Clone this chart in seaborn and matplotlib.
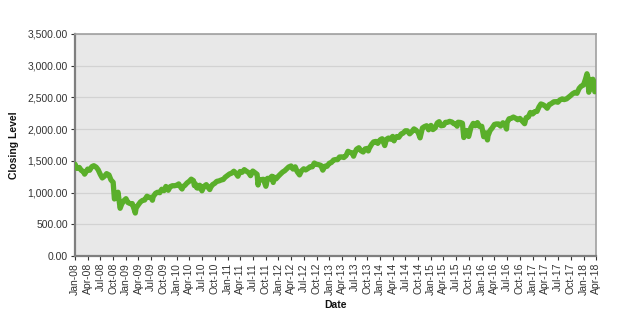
import matplotlib
matplotlib.use("Agg")
import matplotlib.pyplot as plt
import matplotlib.dates as mdates
import matplotlib.ticker as mticker
import seaborn as sns
import pandas as pd

# Approximate semi-monthly closing levels
dates = [
 "2008-01-01","2008-01-15","2008-02-01","2008-02-15","2008-03-01","2008-03-10","2008-04-01","2008-04-15","2008-05-01","2008-05-15","2008-06-01","2008-06-15","2008-07-01","2008-07-15","2008-08-01","2008-08-15","2008-09-01","2008-09-15","2008-10-01","2008-10-10","2008-10-15","2008-10-28","2008-11-05","2008-11-20","2008-12-01","2008-12-15",
 "2009-01-01","2009-01-15","2009-02-01","2009-02-15","2009-03-01","2009-03-09","2009-03-15","2009-04-01","2009-04-15","2009-05-01","2009-05-15","2009-06-01","2009-06-15","2009-07-01","2009-07-10","2009-07-15","2009-08-01","2009-08-15","2009-09-01","2009-09-15","2009-10-01","2009-10-15","2009-11-01","2009-11-15","2009-12-01","2009-12-15",
 "2010-01-01","2010-01-15","2010-02-01","2010-02-08","2010-02-15","2010-03-01","2010-03-15","2010-04-01","2010-04-15","2010-05-01","2010-05-07","2010-05-15","2010-05-25","2010-06-01","2010-06-15","2010-07-01","2010-07-15","2010-08-01","2010-08-15","2010-08-26","2010-09-01","2010-09-15","2010-10-01","2010-10-15","2010-11-01","2010-11-15","2010-12-01","2010-12-15",
 "2011-01-01","2011-01-15","2011-02-01","2011-02-15","2011-03-01","2011-03-16","2011-04-01","2011-04-15","2011-05-01","2011-05-15","2011-06-01","2011-06-15","2011-07-01","2011-07-15","2011-08-01","2011-08-08","2011-08-15","2011-09-01","2011-09-15","2011-10-03","2011-10-15","2011-11-01","2011-11-15","2011-11-25","2011-12-01","2011-12-15",
 "2012-01-01","2012-01-15","2012-02-01","2012-02-15","2012-03-01","2012-03-15","2012-04-01","2012-04-15","2012-05-01","2012-05-15","2012-06-01","2012-06-15","2012-07-01","2012-07-15","2012-08-01","2012-08-15","2012-09-01","2012-09-15","2012-10-01","2012-10-15","2012-11-01","2012-11-15","2012-12-01","2012-12-15",
 "2013-01-01","2013-01-15","2013-02-01","2013-02-15","2013-03-01","2013-03-15","2013-04-01","2013-04-15","2013-05-01","2013-05-15","2013-06-01","2013-06-15","2013-06-24","2013-07-01","2013-07-15","2013-08-01","2013-08-15","2013-09-01","2013-09-15","2013-10-01","2013-10-08","2013-10-15","2013-11-01","2013-11-15","2013-12-01","2013-12-15",
 "2014-01-01","2014-01-15","2014-02-03","2014-02-15","2014-03-01","2014-03-15","2014-04-01","2014-04-11","2014-04-15","2014-05-01","2014-05-15","2014-06-01","2014-06-15","2014-07-01","2014-07-15","2014-08-01","2014-08-15","2014-09-01","2014-09-15","2014-10-01","2014-10-15","2014-11-01","2014-11-15","2014-12-01","2014-12-15",
 "2015-01-01","2015-01-15","2015-02-01","2015-02-15","2015-03-01","2015-03-15","2015-04-01","2015-04-15","2015-05-01","2015-05-15","2015-06-01","2015-06-15","2015-07-01","2015-07-08","2015-07-15","2015-08-01","2015-08-15","2015-08-25","2015-09-01","2015-09-15","2015-09-29","2015-10-15","2015-11-01","2015-11-15","2015-12-01","2015-12-15",
 "2016-01-01","2016-01-15","2016-02-01","2016-02-11","2016-02-15","2016-03-01","2016-03-15","2016-04-01","2016-04-15","2016-05-01","2016-05-15","2016-06-01","2016-06-15","2016-06-27","2016-07-01","2016-07-15","2016-08-01","2016-08-15","2016-09-01","2016-09-15","2016-10-01","2016-10-15","2016-11-04","2016-11-15","2016-12-01","2016-12-15",
 "2017-01-01","2017-01-15","2017-02-01","2017-02-15","2017-03-01","2017-03-15","2017-04-01","2017-04-15","2017-05-01","2017-05-15","2017-06-01","2017-06-15","2017-07-01","2017-07-15","2017-08-01","2017-08-15","2017-09-01","2017-09-15","2017-10-01","2017-10-15","2017-11-01","2017-11-15","2017-12-01","2017-12-15",
 "2018-01-01","2018-01-15","2018-01-26","2018-02-01","2018-02-08","2018-02-15","2018-02-26","2018-03-01","2018-03-09","2018-03-15","2018-03-23","2018-03-27","2018-04-01",
]
closing = [
 1447,1380,1395,1349,1331,1290,1370,1351,1409,1423,1400,1360,1284,1230,1260,1298,1277,1200,1161,899,907,941,1005,752,816,868,
 903,843,825,826,735,677,756,811,852,877,882,942,923,923,879,932,987,1004,998,1052,1029,1096,1036,1093,1108,1107,
 1115,1136,1074,1056,1094,1115,1150,1178,1211,1187,1110,1136,1074,1070,1115,1027,1096,1125,1079,1047,1080,1125,1146,1176,1184,1197,1206,1242,
 1271,1293,1307,1336,1306,1257,1332,1319,1361,1338,1314,1266,1339,1316,1287,1119,1204,1204,1209,1099,1224,1219,1257,1159,1244,1215,
 1258,1289,1324,1343,1374,1403,1419,1370,1405,1330,1278,1342,1374,1356,1380,1405,1406,1465,1444,1440,1428,1353,1416,1413,
 1462,1472,1513,1520,1518,1560,1562,1552,1582,1650,1630,1626,1573,1614,1682,1706,1661,1639,1688,1695,1656,1698,1761,1798,1806,1775,
 1831,1848,1741,1838,1859,1841,1885,1815,1842,1883,1870,1924,1936,1973,1973,1925,1955,2003,1984,1946,1862,2018,2039,2053,1989,
 2058,1992,2021,2096,2117,2053,2059,2106,2108,2122,2111,2084,2077,2046,2108,2104,2092,1867,1914,1978,1884,2023,2090,2053,2102,2043,
 2044,1880,1940,1829,1895,1978,2015,2073,2081,2081,2047,2100,2072,2001,2103,2162,2171,2190,2170,2147,2168,2133,2085,2180,2191,2262,
 2239,2274,2279,2349,2396,2385,2362,2329,2388,2402,2430,2432,2423,2459,2476,2465,2476,2500,2529,2557,2579,2564,2642,2676,
 2695,2786,2872,2821,2581,2731,2779,2677,2786,2747,2588,2613,2600,
]
tick_dates = pd.date_range("2008-01-01", "2018-04-01", freq="QS")
y_ticks = [0, 500, 1000, 1500, 2000, 2500, 3000, 3500]

df = pd.DataFrame({"Date": pd.to_datetime(dates), "Closing Level": closing})

sns.set_theme(style="white")
plt.rcParams["font.family"] = ["Liberation Sans", "DejaVu Sans"]

fig = plt.figure(figsize=(6.21, 3.20), dpi=100)
ax = fig.add_axes([0.1208, 0.2, 0.839, 0.694])
ax.set_facecolor("#E8E8E8")

sns.lineplot(data=df, x="Date", y="Closing Level", ax=ax, color="#5AAF2A",
             linewidth=3.8, solid_joinstyle="round", zorder=3)

ax.set_xlim(pd.Timestamp("2008-01-01"), pd.Timestamp("2018-04-01"))
ax.set_ylim(0, 3500)
ax.set_yticks(y_ticks)
ax.yaxis.set_major_formatter(mticker.FuncFormatter(lambda v, p: f"{v:,.2f}"))
ax.set_xticks(tick_dates)
ax.xaxis.set_major_formatter(mdates.DateFormatter("%b-%y"))
ax.grid(axis="y", color="#D2D2D2", linewidth=0.9, zorder=0)
ax.set_axisbelow(True)

for lbl in ax.get_xticklabels():
    lbl.set_rotation(90)
ax.tick_params(axis="both", labelsize=7.5, colors="#333333", length=3,
               width=0.8, direction="out", pad=2)
ax.tick_params(axis="x", bottom=True)
ax.tick_params(axis="y", left=True)

ax.set_xlabel("Date", fontsize=7.5, fontweight="bold", color="#111111", labelpad=4)
ax.set_ylabel("Closing Level", fontsize=7.5, fontweight="bold", color="#111111", labelpad=6)

ax.spines["left"].set_color("#7F7F7F")
ax.spines["left"].set_linewidth(1.6)
ax.spines["bottom"].set_color("#7F7F7F")
ax.spines["bottom"].set_linewidth(1.6)
ax.spines["top"].set_color("#A0A0A0")
ax.spines["top"].set_linewidth(1.2)
ax.spines["right"].set_color("#A0A0A0")
ax.spines["right"].set_linewidth(1.2)

fig.savefig("out.png", dpi=100, facecolor="white")
